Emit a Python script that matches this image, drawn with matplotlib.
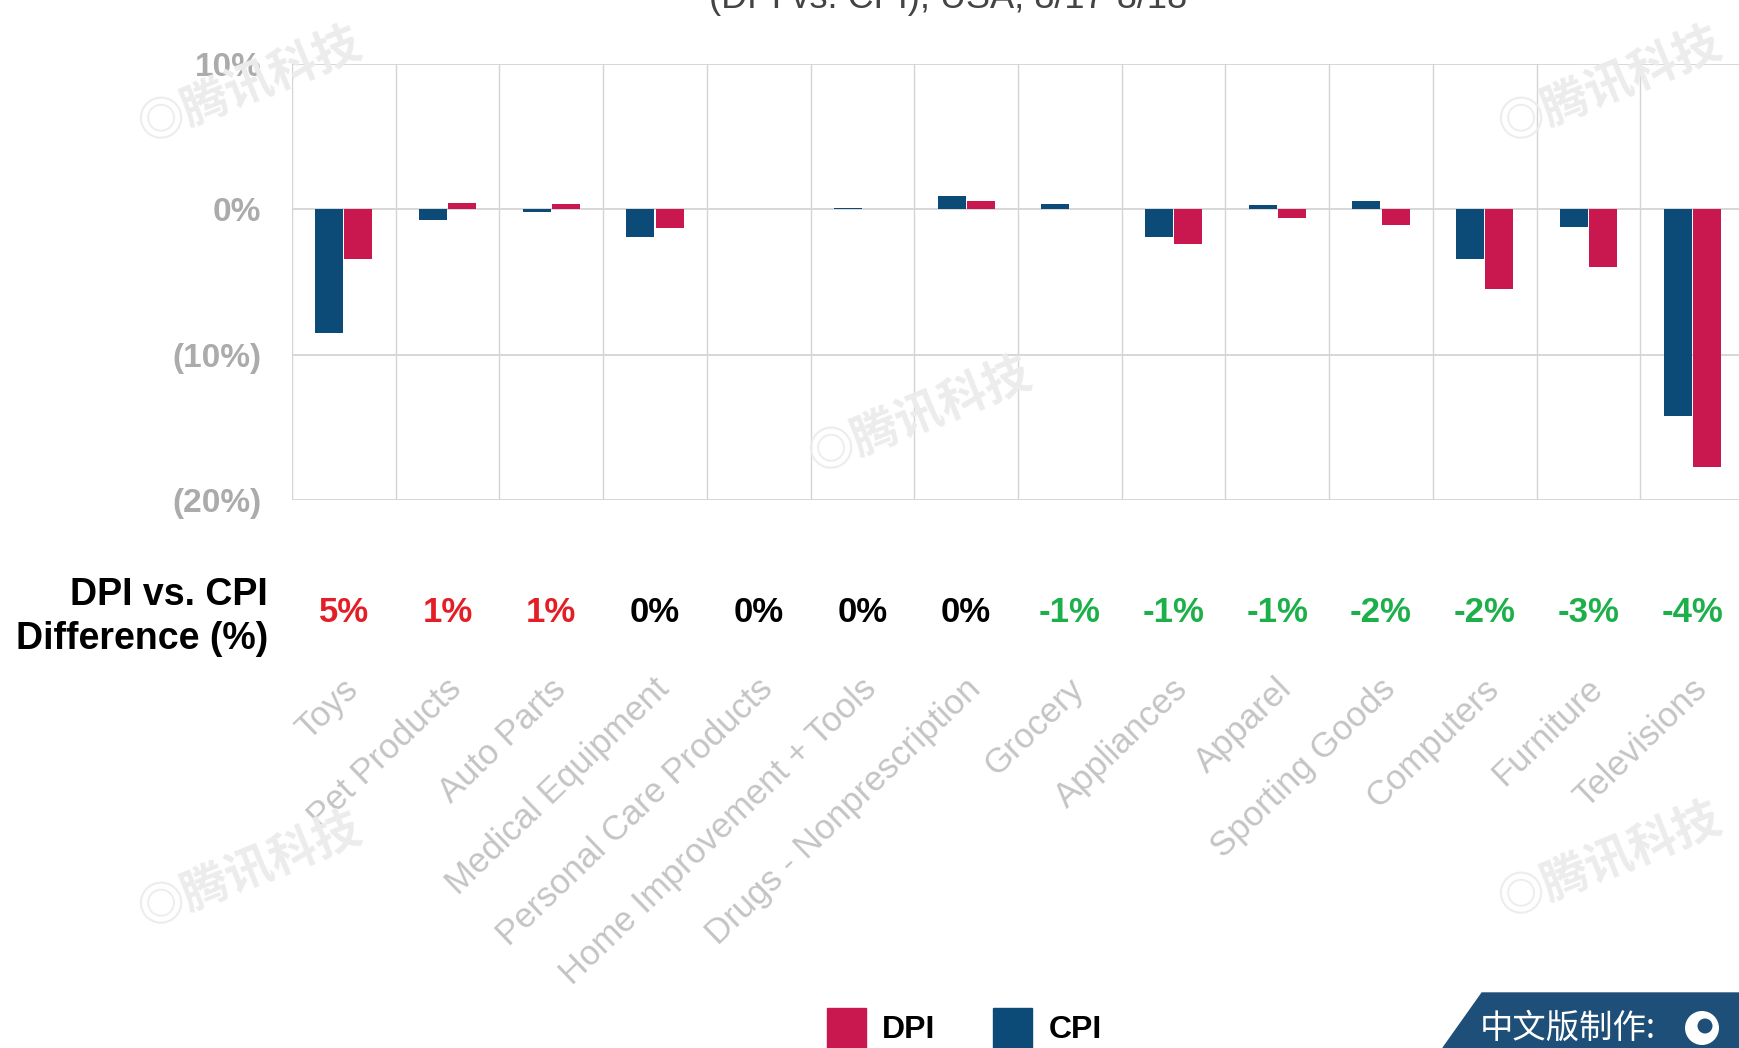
import matplotlib.pyplot as plt
from matplotlib.patches import Polygon, Rectangle, Ellipse
import numpy as np

# categories and values (% change, 8/17-8/18)
categories = ['Toys', 'Pet Products', 'Auto Parts', 'Medical Equipment',
              'Personal Care Products', 'Home Improvement + Tools',
              'Drugs - Nonprescription', 'Grocery', 'Appliances', 'Apparel',
              'Sporting Goods', 'Computers', 'Furniture', 'Televisions']
cpi = [-8.5, -0.7, -0.2, -1.9, 0.0, 0.1, 0.95, 0.35, -1.9, 0.3, 0.6, -3.45, -1.2, -14.2]
dpi = [-3.45, 0.45, 0.35, -1.3, 0.0, 0.0, 0.55, 0.0, -2.4, -0.6, -1.1, -5.5, -4.0, -17.7]
diff_labels = ['5%', '1%', '1%', '0%', '0%', '0%', '0%', '-1%', '-1%', '-1%',
               '-2%', '-2%', '-3%', '-4%']
yticks = [10, 0, -10, -20]
ytick_labels = ['10%', '0%', '(10%)', '(20%)']

red = '#C8184F'
blue = '#0C4B78'
green = '#1DB04A'

plt.rcParams['font.family'] = ['Liberation Sans', 'Noto Sans CJK SC', 'DejaVu Sans']

fig = plt.figure(figsize=(17.4, 10.48), dpi=100)
ax = fig.add_axes([292 / 1740, 1 - 500 / 1048, 1452 / 1740, 436 / 1048])

x = np.arange(len(categories))
w = 0.27
ax.bar(x - 0.14, cpi, width=w, color=blue, zorder=3)
ax.bar(x + 0.14, dpi, width=w, color=red, zorder=3)

ax.set_xlim(-0.5, len(categories) - 0.5)
ax.set_ylim(-20, 10)
for v in yticks:
    ax.axhline(v, color='#d4d4d4', lw=1.3, zorder=1)
for b in np.arange(-0.5, len(categories), 1.0):
    ax.axvline(b, color='#d4d4d4', lw=1.0, zorder=1)
for s in ax.spines.values():
    s.set_visible(False)
ax.set_yticks(yticks)
ax.set_yticklabels(ytick_labels, fontsize=24, color='#ababab', fontweight='bold')
ax.tick_params(axis='y', length=0, pad=22)
ax.set_xticks([])

# difference row
tr = ax.get_xaxis_transform()
for i, lab in enumerate(diff_labels):
    if lab.startswith('-'):
        c = green
    elif lab == '0%':
        c = 'black'
    else:
        c = '#E41E26'
    ax.text(i, -0.258, lab, transform=tr, ha='center', va='center',
            fontsize=25, fontweight='bold', color=c)
fig.text(268 / 1740, 1 - 617 / 1048, 'DPI vs. CPI\nDifference (%)', ha='right',
         va='center', fontsize=27, fontweight='bold', linespacing=1.3)

# rotated category labels
for i, lab in enumerate(categories):
    ax.text(i - 0.02, -0.395, lab, transform=tr, ha='right', va='top',
            rotation=44, rotation_mode='anchor', fontsize=25, color='#c4c4c4')

# cut-off title
fig.text(0.545, 1 - 8 / 1048, '(DPI vs. CPI), USA, 8/17-8/18', ha='center',
         va='baseline', fontsize=26, color='#444444')

# legend
fig.patches.append(Rectangle((827 / 1740, 0), 39 / 1740, 40 / 1048,
                             transform=fig.transFigure, color=red))
fig.text(882 / 1740, 1 - 1030 / 1048, 'DPI', fontsize=23, fontweight='bold', va='center')
fig.patches.append(Rectangle((993 / 1740, 0), 39 / 1740, 40 / 1048,
                             transform=fig.transFigure, color=blue))
fig.text(1049 / 1740, 1 - 1030 / 1048, 'CPI', fontsize=23, fontweight='bold', va='center')

# banner bottom right
banner = Polygon([(1443 / 1740, 0), (1482 / 1740, 1 - 993 / 1048), (1.0, 1 - 993 / 1048), (1.0, 0)],
                 closed=True, transform=fig.transFigure, color='#1D4F78')
fig.patches.append(banner)
fig.text(1480 / 1740, 1 - 1028 / 1048, '中文版制作:', fontsize=24, color='white',
         va='center', family=['Noto Sans CJK SC', 'DejaVu Sans'], style='italic')
fig.patches.append(Ellipse((1702 / 1740, 1 - 1028 / 1048), 34 / 1740, 34 / 1048,
                           transform=fig.transFigure, facecolor='white', edgecolor='none'))
fig.patches.append(Ellipse((1705 / 1740, 1 - 1026 / 1048), 15 / 1740, 15 / 1048,
                           transform=fig.transFigure, facecolor='#1D4F78', edgecolor='none'))

# watermarks
for (wx, wy) in [(250, 85), (920, 415), (1610, 85), (250, 870), (1610, 860)]:
    fig.text(wx / 1740, 1 - wy / 1048, '◎腾讯科技', fontsize=34, color='#ececec',
             rotation=22, ha='center', va='center', fontweight='bold', zorder=0,
             family=['Noto Sans CJK SC', 'DejaVu Sans'])

fig.savefig('out.png', dpi=100)
